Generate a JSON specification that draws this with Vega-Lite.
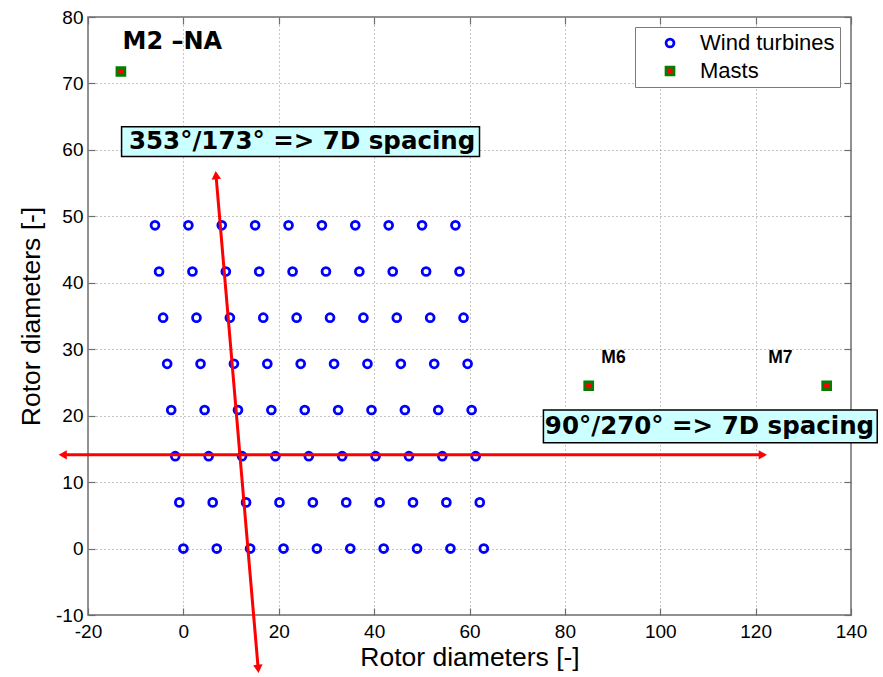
{
  "$schema": "https://vega.github.io/schema/vega-lite/v6.json",
  "width": 763,
  "height": 598,
  "autosize": "none",
  "padding": {"left": 88, "top": 17, "right": 32, "bottom": 62},
  "background": "white",
  "config": {
    "view": {"stroke": "#6e6e6e", "strokeWidth": 1.5},
    "axis": {
      "domain": false,
      "tickColor": "#6e6e6e",
      "tickWidth": 1.2,
      "tickSize": -7,
      "labelFlush": false,
      "labelFont": "Liberation Sans",
      "labelFontSize": 19,
      "labelColor": "#000000",
      "titleFont": "Liberation Sans",
      "titleFontSize": 26.5,
      "titleFontWeight": "normal",
      "titleColor": "#000000",
      "gridColor": "#8c8c8c",
      "gridDash": [1, 3],
      "gridWidth": 1,
      "gridOpacity": 1
    },
    "legend": {
      "fillColor": "white",
      "strokeColor": "#7a7a7a",
      "padding": 5,
      "rowPadding": 6,
      "symbolSize": 62,
      "symbolStrokeWidth": 2.8,
      "symbolOffset": 19,
      "labelOffset": 19,
      "labelFont": "Liberation Sans",
      "labelFontSize": 22,
      "labelColor": "#000000"
    }
  },
  "datasets": {
    "layout": [
      {"x": 0, "y": 0, "kind": "Wind turbines"}, {"x": 7, "y": 0, "kind": "Wind turbines"}, {"x": 14, "y": 0, "kind": "Wind turbines"}, {"x": 21, "y": 0, "kind": "Wind turbines"}, {"x": 28, "y": 0, "kind": "Wind turbines"},
      {"x": 35, "y": 0, "kind": "Wind turbines"}, {"x": 42, "y": 0, "kind": "Wind turbines"}, {"x": 49, "y": 0, "kind": "Wind turbines"}, {"x": 56, "y": 0, "kind": "Wind turbines"}, {"x": 63, "y": 0, "kind": "Wind turbines"},
      {"x": -0.85, "y": 6.95, "kind": "Wind turbines"}, {"x": 6.15, "y": 6.95, "kind": "Wind turbines"}, {"x": 13.15, "y": 6.95, "kind": "Wind turbines"}, {"x": 20.15, "y": 6.95, "kind": "Wind turbines"}, {"x": 27.15, "y": 6.95, "kind": "Wind turbines"},
      {"x": 34.15, "y": 6.95, "kind": "Wind turbines"}, {"x": 41.15, "y": 6.95, "kind": "Wind turbines"}, {"x": 48.15, "y": 6.95, "kind": "Wind turbines"}, {"x": 55.15, "y": 6.95, "kind": "Wind turbines"}, {"x": 62.15, "y": 6.95, "kind": "Wind turbines"},
      {"x": -1.7, "y": 13.9, "kind": "Wind turbines"}, {"x": 5.3, "y": 13.9, "kind": "Wind turbines"}, {"x": 12.3, "y": 13.9, "kind": "Wind turbines"}, {"x": 19.3, "y": 13.9, "kind": "Wind turbines"}, {"x": 26.3, "y": 13.9, "kind": "Wind turbines"},
      {"x": 33.3, "y": 13.9, "kind": "Wind turbines"}, {"x": 40.3, "y": 13.9, "kind": "Wind turbines"}, {"x": 47.3, "y": 13.9, "kind": "Wind turbines"}, {"x": 54.3, "y": 13.9, "kind": "Wind turbines"}, {"x": 61.3, "y": 13.9, "kind": "Wind turbines"},
      {"x": -2.55, "y": 20.85, "kind": "Wind turbines"}, {"x": 4.45, "y": 20.85, "kind": "Wind turbines"}, {"x": 11.45, "y": 20.85, "kind": "Wind turbines"}, {"x": 18.45, "y": 20.85, "kind": "Wind turbines"}, {"x": 25.45, "y": 20.85, "kind": "Wind turbines"},
      {"x": 32.45, "y": 20.85, "kind": "Wind turbines"}, {"x": 39.45, "y": 20.85, "kind": "Wind turbines"}, {"x": 46.45, "y": 20.85, "kind": "Wind turbines"}, {"x": 53.45, "y": 20.85, "kind": "Wind turbines"}, {"x": 60.45, "y": 20.85, "kind": "Wind turbines"},
      {"x": -3.4, "y": 27.8, "kind": "Wind turbines"}, {"x": 3.6, "y": 27.8, "kind": "Wind turbines"}, {"x": 10.6, "y": 27.8, "kind": "Wind turbines"}, {"x": 17.6, "y": 27.8, "kind": "Wind turbines"}, {"x": 24.6, "y": 27.8, "kind": "Wind turbines"},
      {"x": 31.6, "y": 27.8, "kind": "Wind turbines"}, {"x": 38.6, "y": 27.8, "kind": "Wind turbines"}, {"x": 45.6, "y": 27.8, "kind": "Wind turbines"}, {"x": 52.6, "y": 27.8, "kind": "Wind turbines"}, {"x": 59.6, "y": 27.8, "kind": "Wind turbines"},
      {"x": -4.25, "y": 34.75, "kind": "Wind turbines"}, {"x": 2.75, "y": 34.75, "kind": "Wind turbines"}, {"x": 9.75, "y": 34.75, "kind": "Wind turbines"}, {"x": 16.75, "y": 34.75, "kind": "Wind turbines"}, {"x": 23.75, "y": 34.75, "kind": "Wind turbines"},
      {"x": 30.75, "y": 34.75, "kind": "Wind turbines"}, {"x": 37.75, "y": 34.75, "kind": "Wind turbines"}, {"x": 44.75, "y": 34.75, "kind": "Wind turbines"}, {"x": 51.75, "y": 34.75, "kind": "Wind turbines"}, {"x": 58.75, "y": 34.75, "kind": "Wind turbines"},
      {"x": -5.1, "y": 41.7, "kind": "Wind turbines"}, {"x": 1.9, "y": 41.7, "kind": "Wind turbines"}, {"x": 8.9, "y": 41.7, "kind": "Wind turbines"}, {"x": 15.9, "y": 41.7, "kind": "Wind turbines"}, {"x": 22.9, "y": 41.7, "kind": "Wind turbines"},
      {"x": 29.9, "y": 41.7, "kind": "Wind turbines"}, {"x": 36.9, "y": 41.7, "kind": "Wind turbines"}, {"x": 43.9, "y": 41.7, "kind": "Wind turbines"}, {"x": 50.9, "y": 41.7, "kind": "Wind turbines"}, {"x": 57.9, "y": 41.7, "kind": "Wind turbines"},
      {"x": -5.95, "y": 48.65, "kind": "Wind turbines"}, {"x": 1.05, "y": 48.65, "kind": "Wind turbines"}, {"x": 8.05, "y": 48.65, "kind": "Wind turbines"}, {"x": 15.05, "y": 48.65, "kind": "Wind turbines"}, {"x": 22.05, "y": 48.65, "kind": "Wind turbines"},
      {"x": 29.05, "y": 48.65, "kind": "Wind turbines"}, {"x": 36.05, "y": 48.65, "kind": "Wind turbines"}, {"x": 43.05, "y": 48.65, "kind": "Wind turbines"}, {"x": 50.05, "y": 48.65, "kind": "Wind turbines"}, {"x": 57.05, "y": 48.65, "kind": "Wind turbines"},
      {"x": -13.1, "y": 71.8, "kind": "Masts"},
      {"x": 85.0, "y": 24.5, "kind": "Masts"},
      {"x": 134.9, "y": 24.5, "kind": "Masts"}
    ]
  },
  "resolve": {"axis": {"x": "independent", "y": "independent"}},
  "layer": [
    {
      "data": {"name": "layout"},
      "mark": {"type": "point", "filled": true, "opacity": 1, "strokeWidth": 2.8, "size": 62},
      "encoding": {
        "x": {
          "field": "x", "type": "quantitative",
          "scale": {"domain": [-20, 140], "nice": false, "zero": false},
          "axis": {
            "title": "Rotor diameters [-]",
            "values": [-20, 0, 20, 40, 60, 80, 100, 120, 140],
            "grid": true,
            "labelPadding": 14,
            "titlePadding": 3,
            "labelExpr": "'' + datum.value"
          }
        },
        "y": {
          "field": "y", "type": "quantitative",
          "scale": {"domain": [-10, 80], "nice": false, "zero": false},
          "axis": {
            "title": "Rotor diameters [-]",
            "values": [-10, 0, 10, 20, 30, 40, 50, 60, 70, 80],
            "grid": true,
            "labelPadding": 12,
            "titlePadding": 10,
            "labelExpr": "'' + datum.value"
          }
        },
        "shape": {
          "field": "kind", "type": "nominal",
          "scale": {"domain": ["Wind turbines", "Masts"], "range": ["circle", "square"]},
          "legend": {"title": null, "orient": "none", "legendX": 547, "legendY": 10}
        },
        "stroke": {
          "field": "kind", "type": "nominal",
          "scale": {"domain": ["Wind turbines", "Masts"], "range": ["#0000ff", "#008000"]},
          "legend": {"title": null, "orient": "none", "legendX": 547, "legendY": 10}
        },
        "fill": {
          "field": "kind", "type": "nominal",
          "scale": {"domain": ["Wind turbines", "Masts"], "range": ["transparent", "#ff0000"]},
          "legend": {"title": null, "orient": "none", "legendX": 547, "legendY": 10}
        }
      }
    },
    {
      "data": {"values": [
        {"x": -24.6, "y": 14.1, "x2": 121.2, "y2": 14.1},
        {"x": 6.84, "y": 56.2, "x2": 15.69, "y2": -18.1}
      ]},
      "mark": {"type": "rule", "color": "#ff0000", "strokeWidth": 3},
      "encoding": {
        "x": {"field": "x", "type": "quantitative", "scale": {"domain": [-20, 140], "nice": false, "zero": false},
              "axis": {"orient": "top", "title": null, "labels": false, "grid": false, "values": [-20, 0, 20, 40, 60, 80, 100, 120, 140]}},
        "y": {"field": "y", "type": "quantitative", "scale": {"domain": [-10, 80], "nice": false, "zero": false},
              "axis": {"orient": "right", "title": null, "labels": false, "grid": false, "values": [-10, 0, 10, 20, 30, 40, 50, 60, 70, 80]}},
        "x2": {"field": "x2"},
        "y2": {"field": "y2"}
      }
    },
    {
      "data": {"values": [{"x": -25.3, "y": 14.1}]},
      "mark": {"type": "point", "shape": "triangle-left", "filled": true, "opacity": 1, "color": "#ff0000", "size": 90},
      "encoding": {
        "x": {"field": "x", "type": "quantitative", "axis": null},
        "y": {"field": "y", "type": "quantitative", "axis": null}
      }
    },
    {
      "data": {"values": [{"x": 121.5, "y": 14.1}]},
      "mark": {"type": "point", "shape": "triangle-right", "filled": true, "opacity": 1, "color": "#ff0000", "size": 90},
      "encoding": {
        "x": {"field": "x", "type": "quantitative", "axis": null},
        "y": {"field": "y", "type": "quantitative", "axis": null}
      }
    },
    {
      "data": {"values": [{"x": 6.84, "y": 56.2}]},
      "mark": {"type": "point", "shape": "triangle-up", "filled": true, "opacity": 1, "color": "#ff0000", "size": 90, "angle": -4.9},
      "encoding": {
        "x": {"field": "x", "type": "quantitative", "axis": null},
        "y": {"field": "y", "type": "quantitative", "axis": null}
      }
    },
    {
      "data": {"values": [{"x": 15.69, "y": -18.1}]},
      "mark": {"type": "point", "shape": "triangle-down", "filled": true, "opacity": 1, "color": "#ff0000", "size": 90, "angle": -4.9},
      "encoding": {
        "x": {"field": "x", "type": "quantitative", "axis": null},
        "y": {"field": "y", "type": "quantitative", "axis": null}
      }
    },
    {
      "data": {"values": [
        {"x": -12.96, "x2": 62.1, "y": 63.5, "y2": 59.0},
        {"x": 75.5, "x2": 145.5, "y": 20.85, "y2": 15.93}
      ]},
      "mark": {"type": "rect", "fill": "#ccffff", "stroke": "#000000", "strokeWidth": 1.5},
      "encoding": {
        "x": {"field": "x", "type": "quantitative", "axis": null},
        "x2": {"field": "x2"},
        "y": {"field": "y", "type": "quantitative", "axis": null},
        "y2": {"field": "y2"}
      }
    },
    {
      "data": {"values": [
        {"x": -11.4, "y": 61.2, "label": "353°/173° => 7D spacing"},
        {"x": 75.8, "y": 18.35, "label": "90°/270° => 7D spacing"}
      ]},
      "mark": {"type": "text", "align": "left", "baseline": "middle", "font": "DejaVu Sans", "fontWeight": "bold", "fontSize": 24.5, "color": "#000000"},
      "encoding": {
        "x": {"field": "x", "type": "quantitative", "axis": null},
        "y": {"field": "y", "type": "quantitative", "axis": null},
        "text": {"field": "label"}
      }
    },
    {
      "data": {"values": [{"x": -12.75, "y": 76.25, "label": "M2 –NA"}]},
      "mark": {"type": "text", "align": "left", "baseline": "middle", "font": "DejaVu Sans", "fontWeight": "bold", "fontSize": 24, "color": "#000000"},
      "encoding": {
        "x": {"field": "x", "type": "quantitative", "axis": null},
        "y": {"field": "y", "type": "quantitative", "axis": null},
        "text": {"field": "label"}
      }
    },
    {
      "data": {"values": [
        {"x": 90.2, "y": 28.7, "label": "M6"},
        {"x": 125.2, "y": 28.7, "label": "M7"}
      ]},
      "mark": {"type": "text", "align": "center", "baseline": "middle", "font": "Liberation Sans", "fontWeight": "bold", "fontSize": 17.5, "color": "#000000"},
      "encoding": {
        "x": {"field": "x", "type": "quantitative", "axis": null},
        "y": {"field": "y", "type": "quantitative", "axis": null},
        "text": {"field": "label"}
      }
    }
  ]
}
